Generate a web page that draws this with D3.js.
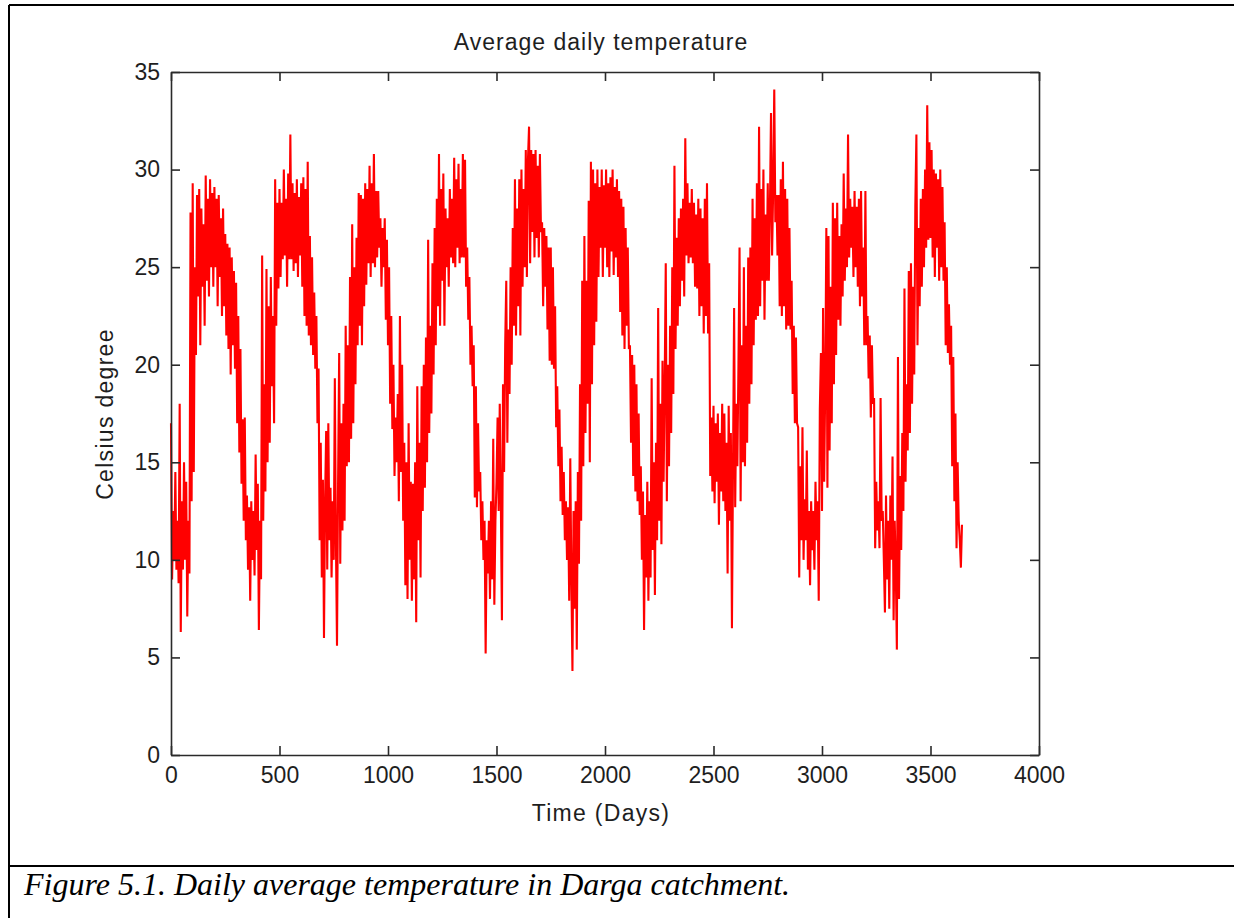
<!DOCTYPE html>
<html>
<head>
<meta charset="utf-8">
<script src="https://cdn.jsdelivr.net/npm/d3@7"></script>
<style>
	body { margin: 0; background: #fff; }
	svg text { font-family: "Liberation Sans", Arial, sans-serif; fill: #1e1e1e; }
</style>
</head>
<body>
<svg></svg>
<script>
// daily mean temperature, read every 5 days off the figure
var temps = [
	17, 9, 12.5, 10, 14.5, 9.5, 12, 8.8, 18, 6.3,
	13, 9.5, 15, 10, 14, 7.1, 12, 9.3, 27.8, 13,
	29.3, 14.5, 25, 20.5, 28.7, 23.5, 29, 21, 28, 24,
	27.2, 22, 29.7, 24.3, 28.5, 23.5, 29.5, 25, 28.8, 24,
	29.1, 25, 28.5, 23, 28.7, 24.5, 27.5, 22.5, 28, 23,
	26.7, 21.5, 26.2, 20.8, 26, 19.5, 25.5, 21, 24.8, 19.8,
	24.2, 17, 22.5, 15.5, 20.8, 13.9, 17.2, 12, 17.3, 11,
	13.3, 9.5, 12.7, 7.9, 13, 10, 12.5, 9.2, 15.4, 10.5,
	13.9, 6.4, 12, 9, 25.6, 12, 19, 13.5, 24.9, 15,
	23, 16, 24.5, 18.9, 22.5, 17, 29.5, 22, 28.3, 23.9,
	29, 24.5, 28.3, 25.4, 30, 25.6, 28.5, 24, 29.8, 25.4,
	31.8, 25.4, 29.3, 24.8, 28.8, 25.2, 29.5, 24.5, 28.6, 25.6,
	29.3, 24, 29.6, 22.5, 29, 22, 30.4, 21.5, 26.6, 21,
	25.5, 20.5, 23.7, 19.8, 22.5, 17, 19.8, 11, 16, 9.1,
	14.1, 6, 13, 16.6, 9.5, 17, 11, 13.7, 9.1, 13,
	10, 19.3, 11, 5.6, 14, 20.6, 9.8, 17, 11.5, 18,
	12, 22, 14.8, 21, 15, 24.5, 16.2, 27.2, 17, 25,
	19, 26.5, 21, 28.8, 22, 28.7, 21, 28.5, 23, 29.3,
	24.1, 29, 25.2, 30.2, 24.5, 29.3, 25.2, 30.8, 25, 28.9,
	25.5, 28.9, 26, 27.5, 24, 27, 25, 27.5, 22.3, 26.4,
	21, 25, 18, 22.5, 16.7, 20, 14.3, 17.3, 15, 18.5,
	13, 22.5, 14.5, 20, 12, 16, 8.7, 15, 8, 17,
	10, 14, 7.9, 13.9, 9, 15, 6.8, 18.9, 11, 16,
	9.1, 18.9, 12.5, 20, 13.7, 21.4, 15, 26.4, 16.5, 22,
	17.5, 25.2, 19.5, 27, 21, 28.5, 23, 30.8, 22, 29,
	24.3, 29.8, 22, 28, 25, 27.5, 24, 29, 25.5, 28.5,
	25.2, 30.6, 25, 29.5, 26, 30.3, 25.2, 29, 25.5, 30.8,
	25.5, 30.5, 24, 26, 22.3, 24.5, 20, 22, 18.9, 21,
	13.2, 18.9, 12.7, 17, 13.5, 14.5, 11, 13, 10, 12,
	5.2, 11, 9.3, 12, 8, 13, 9, 16.2, 7.7, 12,
	14, 17.3, 12.5, 18, 13, 6.9, 19, 14.5, 21, 24.3,
	16, 21.8, 18.5, 25, 20, 27, 22, 29.5, 21.5, 28,
	23, 29.5, 21.5, 30, 24, 29, 25, 31, 24.5, 30.5,
	32.2, 25.2, 31, 26.8, 30.8, 25.5, 31, 26.5, 30.2, 25.5,
	30.8, 26.8, 27.3, 23, 27, 24, 26.6, 21.8, 26, 20.2,
	26, 20, 25, 19.8, 23, 16.8, 18.9, 14.8, 17.7, 13,
	15.8, 12.3, 14.5, 11, 13, 10, 12.7, 7.9, 15.2, 9,
	4.3, 12.5, 7.5, 13, 5.4, 14.5, 9.8, 19, 12, 24.3,
	14.8, 26.6, 16.5, 24.3, 18, 28.4, 15, 30.4, 19, 30,
	21, 29.3, 22.2, 30, 24.5, 29.1, 26, 30, 24.5, 29.2,
	26, 30, 25, 29.3, 24.5, 29.6, 25.8, 30, 24.6, 29.1,
	25.5, 29.5, 24.5, 28.9, 22.7, 28.5, 21.5, 28.1, 20.8, 27,
	22, 26, 20.8, 21, 16, 20.5, 14.3, 20, 13.5, 19,
	13, 17.5, 12.3, 14.8, 10, 13.5, 6.4, 12.3, 9.1, 14,
	7.9, 13, 9.1, 19.3, 10.5, 15, 8.2, 16, 11, 22.9,
	12, 18, 10.8, 20.2, 14, 19, 25.2, 13, 20, 14.8,
	22, 16.5, 25, 18.5, 30.2, 20.8, 26.5, 22, 27.5, 23,
	28, 24.3, 28.5, 23.5, 31.6, 25.6, 29.3, 25.2, 28.3, 25.5,
	29, 25.2, 28.3, 24, 27.7, 23.9, 28.5, 22.5, 28, 23,
	27.5, 21.6, 28.5, 22.5, 29.3, 21.6, 25.2, 14.3, 17.3, 13.5,
	17.9, 12.9, 17, 14, 17.5, 11.8, 16.5, 13.5, 18, 13,
	17.5, 12.5, 16, 9.3, 17.9, 12, 16.5, 6.5, 15, 22.9,
	12.7, 18, 14.8, 20, 26, 13, 21, 15, 25, 14.8,
	22, 16, 25.5, 18, 26, 19, 28.5, 21, 27.5, 22.3,
	29.3, 22.5, 32.2, 23, 29, 24.3, 30, 22.3, 27.7, 24.3,
	29.3, 24.3, 28, 32.9, 25.6, 29, 34.1, 27.3, 28.7, 25.6,
	28.7, 23, 29.5, 22.5, 30.4, 23, 29, 21.8, 28.5, 22,
	27, 21.8, 24.3, 18.5, 22, 17, 21.4, 17, 16.8, 9.1,
	14.8, 11, 16.8, 10, 13.1, 11, 15.6, 9.5, 12.5, 8.7,
	13, 10.5, 12.5, 9.5, 14, 11, 13, 7.9, 17.7, 20.6,
	12.5, 22.9, 14, 19, 27, 13.7, 26.6, 15.6, 24, 17,
	28.3, 19, 27.5, 20.5, 28.3, 22.3, 26.6, 22, 27.2, 23.5,
	29.8, 24.3, 28, 25, 31.8, 25.5, 28.5, 26, 28.1, 24.5,
	28.9, 25, 28.1, 24, 28.5, 23, 28.9, 23.5, 26, 21,
	28.9, 21, 22.5, 19.3, 21.5, 17.3, 21, 18, 18.3, 10.6,
	14, 11.5, 13, 10.6, 18.3, 12, 12.5, 10, 7.3, 13.3,
	9, 12, 7.5, 13.3, 10, 15.3, 6.9, 12, 9.5, 5.4,
	20.4, 8, 14.3, 10.5, 16.5, 12.5, 23.9, 14, 19, 15.6,
	24.8, 16.5, 25.2, 18, 24, 19.5, 28.1, 31.8, 21, 27,
	23, 28.5, 24, 29, 25, 30, 26, 33.3, 26.4, 31.4,
	26.5, 31, 25.5, 30, 24.5, 29.8, 26, 29.5, 24.3, 30,
	25, 29.1, 24.3, 27.3, 21, 25, 20.6, 23.1, 20, 22,
	14.8, 20.4, 13, 17.5, 10.6, 15, 12, 11, 9.6, 11.8,
];
var dayStep = 5;
var days = temps.map((t, i) => i * dayStep);

var xTicks = [0, 500, 1000, 1500, 2000, 2500, 3000, 3500, 4000];
var yTicks = [0, 5, 10, 15, 20, 25, 30, 35];

var title = "Average daily temperature";
var xLabel = "Time (Days)";
var yLabel = "Celsius degree";
var caption = "Figure 5.1. Daily average temperature in Darga catchment.";

var width = 1234,
	height = 918;
var plot = { left: 171, right: 1039, top: 72, bottom: 755 };

var svg = d3.select("svg").attr("width", width).attr("height", height);

// page frame round the figure and caption
var frame = svg.append("g").attr("stroke", "#000").attr("stroke-width", 2);
frame.append("line").attr("x1", 9).attr("x2", width).attr("y1", 5).attr("y2", 5);
frame.append("line").attr("x1", 9).attr("x2", 9).attr("y1", 5).attr("y2", height);
frame.append("line").attr("x1", 9).attr("x2", width).attr("y1", 866).attr("y2", 866);

var x = d3.scaleLinear().domain([0, 4000]).range([plot.left, plot.right]);
var y = d3.scaleLinear().domain([0, 35]).range([plot.bottom, plot.top]);

svg.append("path")
	.datum(temps)
	.attr("fill", "none")
	.attr("stroke", "#ff0000")
	.attr("stroke-width", 2.1)
	.attr("stroke-linejoin", "miter")
	.attr("d", d3.line().x((d, i) => x(days[i])).y((d) => y(d)));

// matlab style box: ticks inside on all four sides
const styleAxis = (g) => {
	g.selectAll(".domain, .tick line").attr("stroke", "#2a2a2a").attr("stroke-width", 1.6);
	g.selectAll("text").attr("fill", "#1e1e1e").style("font-size", "23px");
};
var fmt = d3.format("d");
svg.append("g")
	.attr("transform", `translate(0,${plot.bottom})`)
	.call(d3.axisBottom(x).tickValues(xTicks).tickFormat(fmt).tickSizeInner(-9).tickSizeOuter(0).tickPadding(12))
	.call(styleAxis);
svg.append("g")
	.attr("transform", `translate(0,${plot.top})`)
	.call(d3.axisTop(x).tickValues(xTicks).tickSizeInner(-9).tickSizeOuter(0).tickFormat(""))
	.call(styleAxis);
svg.append("g")
	.attr("transform", `translate(${plot.left},0)`)
	.call(d3.axisLeft(y).tickValues(yTicks).tickFormat(fmt).tickSizeInner(-9).tickSizeOuter(0).tickPadding(11))
	.call(styleAxis);
svg.append("g")
	.attr("transform", `translate(${plot.right},0)`)
	.call(d3.axisRight(y).tickValues(yTicks).tickSizeInner(-9).tickSizeOuter(0).tickFormat(""))
	.call(styleAxis);
svg.selectAll(".tick text").attr("font-family", null);

svg.append("text")
	.attr("x", 601).attr("y", 50)
	.attr("text-anchor", "middle")
	.style("font-size", "23px").style("letter-spacing", "1px")
	.text(title);
svg.append("text")
	.attr("x", 601).attr("y", 821)
	.attr("text-anchor", "middle")
	.style("font-size", "23px").style("letter-spacing", "1.3px")
	.text(xLabel);
svg.append("text")
	.attr("transform", "translate(113,414) rotate(-90)")
	.attr("text-anchor", "middle")
	.style("font-size", "23px").style("letter-spacing", "1.3px")
	.text(yLabel);

svg.append("text")
	.attr("x", 24).attr("y", 895)
	.style("font-family", '"Liberation Serif", "Times New Roman", serif')
	.style("font-style", "italic").style("font-size", "32px")
	.style("fill", "#000")
	.text(caption);
</script>
</body>
</html>
